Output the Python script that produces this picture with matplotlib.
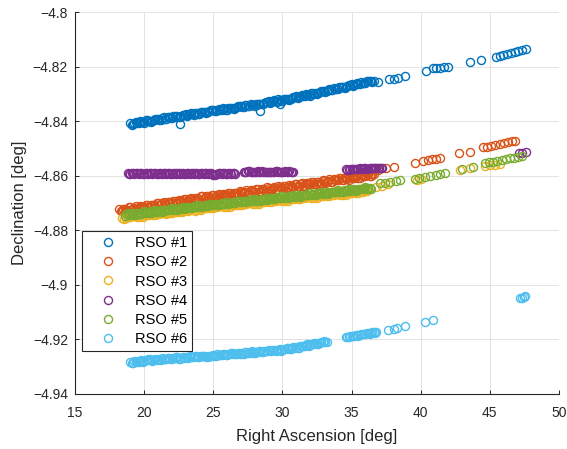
import matplotlib
matplotlib.use("Agg")
import matplotlib.pyplot as plt
from matplotlib.ticker import FuncFormatter

plt.rcParams["font.family"] = ["Liberation Sans", "DejaVu Sans"]

# RSO #1 (first pass incl. sparse tail, second pass interleaved)
rso1_ra = [
    19.0, 19.2, 19.4, 19.6, 19.8, 20.0, 20.2, 20.4, 20.6, 20.8,
    21.0, 21.2, 21.4, 21.6, 21.8, 22.0, 22.2, 22.4, 22.6, 22.8,
    23.0, 23.2, 23.4, 23.6, 23.8, 24.0, 24.2, 24.4, 24.6, 24.8,
    25.0, 25.2, 25.4, 25.6, 25.8, 26.0, 26.2, 26.4, 26.6, 26.8,
    27.0, 27.2, 27.4, 27.6, 27.8, 28.0, 28.2, 28.4, 28.6, 28.8,
    29.0, 29.2, 29.4, 29.6, 29.8, 30.0, 30.2, 30.4, 30.6, 30.8,
    31.0, 31.2, 31.4, 31.6, 31.8, 32.0, 32.2, 32.4, 32.6, 32.8,
    33.0, 33.2, 33.4, 33.6, 33.8, 34.0, 34.2, 34.4, 34.6, 34.8,
    35.0, 35.2, 35.4, 35.6, 35.8, 36.0, 36.2, 36.4, 36.6,
    22.6, 28.4, 29.8, 36.9, 37.73, 38.07, 38.33, 38.86, 40.38, 40.89,
    41.14, 41.39, 41.68, 41.97, 43.56, 44.36, 45.42, 45.7, 45.98, 46.26,
    46.54, 46.8, 47.06, 47.34, 47.61,
]
rso1_dec = [
    -4.8407, -4.8410, -4.8403, -4.8408, -4.8402, -4.8405, -4.8397, -4.8398, -4.8398, -4.8392,
    -4.8390, -4.8394, -4.8386, -4.8392, -4.8386, -4.8389, -4.8382, -4.8382, -4.8383, -4.8376,
    -4.8375, -4.8378, -4.8370, -4.8376, -4.8370, -4.8374, -4.8366, -4.8367, -4.8367, -4.8360,
    -4.8359, -4.8362, -4.8355, -4.8360, -4.8355, -4.8358, -4.8351, -4.8351, -4.8352, -4.8345,
    -4.8344, -4.8347, -4.8339, -4.8345, -4.8339, -4.8343, -4.8335, -4.8335, -4.8336, -4.8329,
    -4.8327, -4.8331, -4.8323, -4.8328, -4.8323, -4.8326, -4.8318, -4.8318, -4.8318, -4.8311,
    -4.8309, -4.8312, -4.8304, -4.8309, -4.8303, -4.8306, -4.8298, -4.8297, -4.8297, -4.8290,
    -4.8288, -4.8290, -4.8282, -4.8287, -4.8281, -4.8283, -4.8275, -4.8275, -4.8275, -4.8267,
    -4.8265, -4.8268, -4.8260, -4.8264, -4.8258, -4.8261, -4.8253, -4.8252, -4.8252,
    -4.8409, -4.8362, -4.8338, -4.8255, -4.8246, -4.8243, -4.8241, -4.8234, -4.8216, -4.8206,
    -4.8205, -4.8203, -4.8202, -4.8200, -4.8182, -4.8175, -4.8163, -4.8159, -4.8155, -4.8152,
    -4.8148, -4.8145, -4.8141, -4.8137, -4.8133,
]
rso1_ra_b = [
    19.1, 19.3, 19.5, 19.7, 19.9, 20.1, 20.3, 20.5, 20.7, 20.9,
    21.1, 21.3, 21.5, 21.7, 21.9, 22.1, 22.3, 22.5, 22.7, 22.9,
    23.1, 23.3, 23.5, 23.7, 23.9, 24.1, 24.3, 24.5, 24.7, 24.9,
    25.1, 25.3, 25.5, 25.7, 25.9, 26.1, 26.3, 26.5, 26.7, 26.9,
    27.1, 27.3, 27.5, 27.7, 27.9, 28.1, 28.3, 28.5, 28.7, 28.9,
    29.1, 29.3, 29.5, 29.7, 29.9, 30.1, 30.3, 30.5, 30.7, 30.9,
    31.1, 31.3, 31.5, 31.7, 31.9, 32.1, 32.3, 32.5, 32.7, 32.9,
    33.1, 33.3, 33.5, 33.7, 33.9, 34.1, 34.3, 34.5, 34.7, 34.9,
    35.1, 35.3, 35.5, 35.7, 35.9, 36.1, 36.3, 36.5,
]
rso1_dec_b = [
    -4.8412, -4.8405, -4.8407, -4.8400, -4.8404, -4.8397, -4.8398, -4.8401, -4.8394, -4.8392,
    -4.8395, -4.8389, -4.8390, -4.8384, -4.8388, -4.8381, -4.8383, -4.8385, -4.8379, -4.8376,
    -4.8380, -4.8373, -4.8374, -4.8368, -4.8372, -4.8366, -4.8367, -4.8370, -4.8363, -4.8360,
    -4.8364, -4.8357, -4.8359, -4.8352, -4.8357, -4.8350, -4.8352, -4.8354, -4.8348, -4.8345,
    -4.8349, -4.8342, -4.8343, -4.8337, -4.8341, -4.8335, -4.8336, -4.8338, -4.8332, -4.8329,
    -4.8332, -4.8326, -4.8327, -4.8320, -4.8325, -4.8318, -4.8319, -4.8321, -4.8314, -4.8311,
    -4.8314, -4.8307, -4.8308, -4.8301, -4.8305, -4.8298, -4.8299, -4.8300, -4.8293, -4.8290,
    -4.8293, -4.8285, -4.8286, -4.8279, -4.8283, -4.8275, -4.8276, -4.8278, -4.8271, -4.8267,
    -4.8270, -4.8263, -4.8264, -4.8256, -4.8260, -4.8253, -4.8254, -4.8255,
]

# RSO #2
rso2_ra = [
    18.2, 18.4, 18.6, 18.8, 19.0, 19.2, 19.4, 19.6, 19.8, 20.0,
    20.2, 20.4, 20.6, 20.8, 21.0, 21.2, 21.4, 21.6, 21.8, 22.0,
    22.2, 22.4, 22.6, 22.8, 23.0, 23.2, 23.4, 23.6, 23.8, 24.0,
    24.2, 24.4, 24.6, 24.8, 25.0, 25.2, 25.4, 25.6, 25.8, 26.0,
    26.2, 26.4, 26.6, 26.8, 27.0, 27.2, 27.4, 27.6, 27.8, 28.0,
    28.2, 28.4, 28.6, 28.8, 29.0, 29.2, 29.4, 29.6, 29.8, 30.0,
    30.2, 30.4, 30.6, 30.8, 31.0, 31.2, 31.4, 31.6, 31.8, 32.0,
    32.2, 32.4, 32.6, 32.8, 33.0, 33.2, 33.4, 33.6, 33.8, 34.0,
    34.2, 34.4, 34.6, 34.8, 35.0, 35.2, 35.4, 35.6, 35.8, 36.0,
    36.2, 36.4, 36.6,
    36.9, 37.5, 38.1, 39.58, 40.2, 40.5, 40.8, 41.1, 41.4, 42.79,
    43.56, 44.5, 44.8, 45.1, 45.4, 45.7, 46.0, 46.3, 46.6, 46.82,
]
rso2_dec = [
    -4.8721, -4.8729, -4.8721, -4.8728, -4.8716, -4.8721, -4.8711, -4.8721, -4.8713, -4.8716,
    -4.8706, -4.8714, -4.8706, -4.8713, -4.8701, -4.8705, -4.8696, -4.8705, -4.8698, -4.8700,
    -4.8691, -4.8698, -4.8691, -4.8697, -4.8686, -4.8690, -4.8681, -4.8690, -4.8683, -4.8685,
    -4.8676, -4.8683, -4.8676, -4.8682, -4.8671, -4.8676, -4.8666, -4.8676, -4.8669, -4.8671,
    -4.8662, -4.8670, -4.8662, -4.8669, -4.8658, -4.8662, -4.8653, -4.8663, -4.8655, -4.8658,
    -4.8649, -4.8656, -4.8649, -4.8656, -4.8644, -4.8649, -4.8640, -4.8649, -4.8642, -4.8645,
    -4.8636, -4.8643, -4.8636, -4.8643, -4.8631, -4.8636, -4.8627, -4.8636, -4.8629, -4.8632,
    -4.8622, -4.8630, -4.8623, -4.8629, -4.8618, -4.8622, -4.8613, -4.8622, -4.8615, -4.8617,
    -4.8608, -4.8615, -4.8608, -4.8614, -4.8603, -4.8607, -4.8598, -4.8607, -4.8600, -4.8602,
    -4.8593, -4.8600, -4.8593,
    -4.8580, -4.8573, -4.8568, -4.8555, -4.8545, -4.8543, -4.8540, -4.8538, -4.8536, -4.8518,
    -4.8512, -4.8496, -4.8493, -4.8490, -4.8487, -4.8484, -4.8481, -4.8477, -4.8474, -4.8472,
]
rso2_ra_b = [
    18.3, 18.5, 18.7, 18.9,
    19.1, 19.3, 19.5, 19.7, 19.9, 20.1, 20.3, 20.5, 20.7, 20.9,
    21.1, 21.3, 21.5, 21.7, 21.9, 22.1, 22.3, 22.5, 22.7, 22.9,
    23.1, 23.3, 23.5, 23.7, 23.9, 24.1, 24.3, 24.5, 24.7, 24.9,
    25.1, 25.3, 25.5, 25.7, 25.9, 26.1, 26.3, 26.5, 26.7, 26.9,
    27.1, 27.3, 27.5, 27.7, 27.9, 28.1, 28.3, 28.5, 28.7, 28.9,
    29.1, 29.3, 29.5, 29.7, 29.9, 30.1, 30.3, 30.5, 30.7, 30.9,
    31.1, 31.3, 31.5, 31.7, 31.9, 32.1, 32.3, 32.5, 32.7, 32.9,
    33.1, 33.3, 33.5, 33.7, 33.9, 34.1, 34.3, 34.5, 34.7, 34.9,
    35.1, 35.3, 35.5, 35.7, 35.9, 36.1, 36.3, 36.5,
]
rso2_dec_b = [
    -4.8730, -4.8721, -4.8724, -4.8715, -4.8723, -4.8717, -4.8722, -4.8711, -4.8714, -4.8707,
    -4.8715, -4.8706, -4.8709, -4.8700, -4.8708, -4.8701, -4.8707, -4.8695, -4.8699, -4.8691,
    -4.8700, -4.8690, -4.8694, -4.8684, -4.8693, -4.8686, -4.8692, -4.8680, -4.8684, -4.8676,
    -4.8685, -4.8675, -4.8679, -4.8669, -4.8678, -4.8672, -4.8677, -4.8666, -4.8670, -4.8662,
    -4.8671, -4.8662, -4.8665, -4.8656, -4.8665, -4.8658, -4.8664, -4.8653, -4.8656, -4.8649,
    -4.8658, -4.8648, -4.8652, -4.8643, -4.8651, -4.8645, -4.8651, -4.8639, -4.8643, -4.8636,
    -4.8645, -4.8635, -4.8639, -4.8630, -4.8638, -4.8632, -4.8638, -4.8626, -4.8630, -4.8623,
    -4.8631, -4.8622, -4.8626, -4.8616, -4.8625, -4.8618, -4.8624, -4.8612, -4.8616, -4.8608,
    -4.8617, -4.8607, -4.8611, -4.8601, -4.8610, -4.8603, -4.8609, -4.8597, -4.8601, -4.8593,
    -4.8602, -4.8592,
]

# RSO #3
rso3_ra = [
    18.4, 18.7, 19.0, 19.3, 19.6, 19.9, 20.2, 20.5, 20.8, 21.1,
    21.4, 21.7, 22.0, 22.3, 22.6, 22.9, 23.2, 23.5, 23.8, 24.1,
    24.4, 24.7, 25.0, 25.3, 25.6, 25.9, 26.2, 26.5, 26.8, 27.1,
    27.4, 27.7, 28.0, 28.3, 28.6, 28.9, 29.2, 29.5, 29.8, 30.1,
    30.4, 30.7, 31.0, 31.3, 31.6, 31.9, 32.2, 32.5, 32.8, 33.1,
    33.4, 33.7, 34.0, 34.3, 34.6, 34.9, 35.2, 35.5, 35.8, 36.1,
    36.8, 37.2, 37.6, 39.7, 40.0, 42.84, 43.6, 44.65, 45.0, 45.35, 45.7,
]
rso3_dec = [
    -4.8754, -4.8756, -4.8752, -4.8748, -4.8750, -4.8750, -4.8744, -4.8741, -4.8744, -4.8740,
    -4.8735, -4.8737, -4.8738, -4.8732, -4.8729, -4.8731, -4.8728, -4.8723, -4.8725, -4.8725,
    -4.8719, -4.8717, -4.8719, -4.8715, -4.8711, -4.8713, -4.8714, -4.8708, -4.8706, -4.8708,
    -4.8704, -4.8700, -4.8702, -4.8703, -4.8697, -4.8694, -4.8697, -4.8693, -4.8689, -4.8691,
    -4.8691, -4.8686, -4.8683, -4.8686, -4.8682, -4.8677, -4.8680, -4.8680, -4.8675, -4.8672,
    -4.8674, -4.8671, -4.8666, -4.8669, -4.8669, -4.8663, -4.8661, -4.8663, -4.8660, -4.8655,
    -4.8642, -4.8636, -4.8631, -4.8616, -4.8613, -4.8580, -4.8572, -4.8565, -4.8562, -4.8559, -4.8556,
]
rso3_ra_b = [
    18.55, 18.85, 19.15, 19.45, 19.75, 20.05, 20.35, 20.65, 20.95, 21.25,
    21.55, 21.85, 22.15, 22.45, 22.75, 23.05, 23.35, 23.65, 23.95, 24.25,
    24.55, 24.85, 25.15, 25.45, 25.75, 26.05, 26.35, 26.65, 26.95, 27.25,
    27.55, 27.85, 28.15, 28.45, 28.75, 29.05, 29.35, 29.65, 29.95, 30.25,
    30.55, 30.85, 31.15, 31.45, 31.75, 32.05, 32.35, 32.65, 32.95, 33.25,
    33.55, 33.85, 34.15, 34.45, 34.75, 35.05, 35.35, 35.65, 35.95,
]
rso3_dec_b = [
    -4.8757, -4.8752, -4.8748, -4.8753, -4.8748, -4.8744, -4.8745, -4.8744, -4.8740, -4.8736,
    -4.8740, -4.8735, -4.8732, -4.8733, -4.8732, -4.8727, -4.8724, -4.8728, -4.8723, -4.8719,
    -4.8720, -4.8720, -4.8715, -4.8711, -4.8716, -4.8711, -4.8708, -4.8709, -4.8709, -4.8704,
    -4.8700, -4.8705, -4.8700, -4.8697, -4.8698, -4.8697, -4.8693, -4.8689, -4.8694, -4.8689,
    -4.8685, -4.8687, -4.8686, -4.8682, -4.8678, -4.8682, -4.8678, -4.8674, -4.8676, -4.8675,
    -4.8670, -4.8667, -4.8671, -4.8667, -4.8663, -4.8664, -4.8664, -4.8659, -4.8656,
]

# RSO #4
rso4_ra = [
    18.8, 19.0, 19.2, 19.4, 19.6, 19.8, 20.0, 20.2, 20.4, 20.6,
    20.8, 21.0, 21.2, 21.4, 21.6, 21.8, 22.0, 22.2, 22.4, 22.6,
    22.8, 23.0, 23.2, 23.4, 23.6, 23.8, 24.0, 24.2, 24.4, 24.6,
    24.8, 25.0, 25.2, 25.4, 25.6, 25.8, 26.0, 26.2, 26.4, 26.6,
    27.2, 27.4, 27.6, 27.8, 28.0, 28.2, 28.4, 28.6, 28.8, 29.0,
    29.2, 29.4, 29.6, 29.8, 30.0, 30.2, 30.4, 30.6, 30.8,
    34.6, 34.8, 35.0, 35.2, 35.4, 35.6, 35.8, 36.0, 36.2, 36.4,
    36.6, 36.8, 37.0, 37.2,
    47.1, 47.35, 47.6,
]
rso4_dec = [
    -4.8590, -4.8593, -4.8589, -4.8591, -4.8592, -4.8589, -4.8593, -4.8590, -4.8591, -4.8592,
    -4.8590, -4.8593, -4.8589, -4.8591, -4.8592, -4.8589, -4.8593, -4.8590, -4.8591, -4.8592,
    -4.8590, -4.8593, -4.8589, -4.8591, -4.8592, -4.8589, -4.8593, -4.8590, -4.8591, -4.8592,
    -4.8590, -4.8596, -4.8594, -4.8591, -4.8592, -4.8589, -4.8593, -4.8590, -4.8591, -4.8592,
    -4.8585, -4.8588, -4.8584, -4.8586, -4.8587, -4.8584, -4.8588, -4.8585, -4.8586, -4.8587,
    -4.8585, -4.8588, -4.8584, -4.8586, -4.8587, -4.8584, -4.8588, -4.8585, -4.8586,
    -4.8577, -4.8579, -4.8575, -4.8577, -4.8576, -4.8573, -4.8576, -4.8573, -4.8574, -4.8571,
    -4.8573, -4.8570, -4.8572, -4.8570,
    -4.8518, -4.8516, -4.8514,
]
rso4_ra_b = [
    18.9, 19.1, 19.3, 19.5, 19.7, 19.9, 20.1, 20.3, 20.5, 20.7,
    20.9, 21.1, 21.3, 21.5, 21.7, 21.9, 22.1, 22.3, 22.5, 22.7,
    22.9, 23.1, 23.3, 23.5, 23.7, 23.9, 24.1, 24.3, 24.5, 24.7,
    24.9, 25.1, 25.3, 25.5, 25.7, 25.9, 26.1, 26.3, 26.5,
    27.3, 27.5, 27.7, 27.9, 28.1, 28.3, 28.5, 28.7, 28.9, 29.1,
    29.3, 29.5, 29.7, 29.9, 30.1, 30.3, 30.5, 30.7,
    34.7, 34.9, 35.1, 35.3, 35.5, 35.7, 35.9, 36.1, 36.3, 36.5,
    36.7, 36.9, 37.1,
]
rso4_dec_b = [
    -4.8592, -4.8589, -4.8593, -4.8590, -4.8591, -4.8593, -4.8589, -4.8592, -4.8590, -4.8591,
    -4.8592, -4.8589, -4.8593, -4.8590, -4.8591, -4.8593, -4.8589, -4.8592, -4.8590, -4.8591,
    -4.8592, -4.8589, -4.8593, -4.8590, -4.8591, -4.8593, -4.8589, -4.8592, -4.8590, -4.8591,
    -4.8595, -4.8596, -4.8593, -4.8590, -4.8591, -4.8593, -4.8589, -4.8592, -4.8590,
    -4.8587, -4.8584, -4.8588, -4.8585, -4.8586, -4.8588, -4.8584, -4.8587, -4.8585, -4.8586,
    -4.8587, -4.8584, -4.8588, -4.8585, -4.8586, -4.8588, -4.8584, -4.8587,
    -4.8578, -4.8575, -4.8577, -4.8574, -4.8575, -4.8576, -4.8572, -4.8575, -4.8572, -4.8573,
    -4.8570, -4.8572, -4.8571,
]

# RSO #5
rso5_ra = [
    18.6, 18.8, 19.0, 19.2, 19.4, 19.6, 19.8, 20.0, 20.2, 20.4,
    20.6, 20.8, 21.0, 21.2, 21.4, 21.6, 21.8, 22.0, 22.2, 22.4,
    22.6, 22.8, 23.0, 23.2, 23.4, 23.6, 23.8, 24.0, 24.2, 24.4,
    24.6, 24.8, 25.0, 25.2, 25.4, 25.6, 25.8, 26.0, 26.2, 26.4,
    26.6, 26.8, 27.0, 27.2, 27.4, 27.6, 27.8, 28.0, 28.2, 28.4,
    28.6, 28.8, 29.0, 29.2, 29.4, 29.6, 29.8, 30.0, 30.2, 30.4,
    30.6, 30.8, 31.0, 31.2, 31.4, 31.6, 31.8, 32.0, 32.2, 32.4,
    32.6, 32.8, 33.0, 33.2, 33.4, 33.6, 33.8, 34.0, 34.2, 34.4,
    34.6, 34.8, 35.0, 35.2, 35.4, 35.6, 35.8, 36.0, 36.2, 36.4,
    37.05, 37.4, 37.8, 38.2, 38.5, 39.6, 39.9, 40.3, 40.7, 41.1,
    41.4, 41.75, 42.96, 43.8, 44.65, 44.95, 45.25, 45.55, 45.85, 46.15,
    46.45, 46.75, 47.05, 47.3,
]
rso5_dec = [
    -4.8747, -4.8738, -4.8742, -4.8737, -4.8743, -4.8736, -4.8739, -4.8731, -4.8734, -4.8736,
    -4.8735, -4.8727, -4.8730, -4.8725, -4.8731, -4.8724, -4.8727, -4.8720, -4.8722, -4.8724,
    -4.8723, -4.8715, -4.8719, -4.8713, -4.8719, -4.8712, -4.8715, -4.8708, -4.8710, -4.8712,
    -4.8711, -4.8703, -4.8707, -4.8702, -4.8708, -4.8701, -4.8704, -4.8697, -4.8700, -4.8701,
    -4.8700, -4.8692, -4.8696, -4.8691, -4.8697, -4.8690, -4.8693, -4.8686, -4.8689, -4.8691,
    -4.8690, -4.8682, -4.8686, -4.8680, -4.8686, -4.8679, -4.8682, -4.8675, -4.8678, -4.8680,
    -4.8679, -4.8671, -4.8675, -4.8670, -4.8676, -4.8669, -4.8671, -4.8664, -4.8667, -4.8669,
    -4.8668, -4.8660, -4.8664, -4.8659, -4.8665, -4.8658, -4.8661, -4.8654, -4.8657, -4.8659,
    -4.8657, -4.8649, -4.8653, -4.8648, -4.8654, -4.8647, -4.8650, -4.8643, -4.8646, -4.8648,
    -4.8628, -4.8625, -4.8622, -4.8619, -4.8616, -4.8613, -4.8610, -4.8606, -4.8602, -4.8598,
    -4.8594, -4.8590, -4.8577, -4.8569, -4.8554, -4.8551, -4.8548, -4.8545, -4.8542, -4.8539,
    -4.8536, -4.8533, -4.8531, -4.8529,
]
rso5_ra_b = [
    18.7, 18.9,
    19.1, 19.3, 19.5, 19.7, 19.9, 20.1, 20.3, 20.5, 20.7, 20.9,
    21.1, 21.3, 21.5, 21.7, 21.9, 22.1, 22.3, 22.5, 22.7, 22.9,
    23.1, 23.3, 23.5, 23.7, 23.9, 24.1, 24.3, 24.5, 24.7, 24.9,
    25.1, 25.3, 25.5, 25.7, 25.9, 26.1, 26.3, 26.5, 26.7, 26.9,
    27.1, 27.3, 27.5, 27.7, 27.9, 28.1, 28.3, 28.5, 28.7, 28.9,
    29.1, 29.3, 29.5, 29.7, 29.9, 30.1, 30.3, 30.5, 30.7, 30.9,
    31.1, 31.3, 31.5, 31.7, 31.9, 32.1, 32.3, 32.5, 32.7, 32.9,
    33.1, 33.3, 33.5, 33.7, 33.9, 34.1, 34.3, 34.5, 34.7, 34.9,
    35.1, 35.3, 35.5, 35.7, 35.9, 36.1, 36.3,
]
rso5_dec_b = [
    -4.8741, -4.8744, -4.8740, -4.8744, -4.8737, -4.8739, -4.8733, -4.8738, -4.8734, -4.8731,
    -4.8729, -4.8733, -4.8728, -4.8732, -4.8725, -4.8727, -4.8721, -4.8727, -4.8722, -4.8719,
    -4.8717, -4.8721, -4.8717, -4.8720, -4.8713, -4.8715, -4.8709, -4.8715, -4.8710, -4.8707,
    -4.8705, -4.8709, -4.8705, -4.8709, -4.8702, -4.8704, -4.8698, -4.8704, -4.8700, -4.8696,
    -4.8694, -4.8698, -4.8694, -4.8698, -4.8691, -4.8693, -4.8687, -4.8693, -4.8689, -4.8686,
    -4.8684, -4.8688, -4.8684, -4.8687, -4.8680, -4.8682, -4.8676, -4.8682, -4.8678, -4.8675,
    -4.8673, -4.8677, -4.8673, -4.8677, -4.8670, -4.8672, -4.8665, -4.8671, -4.8667, -4.8664,
    -4.8662, -4.8666, -4.8662, -4.8666, -4.8659, -4.8661, -4.8655, -4.8661, -4.8657, -4.8654,
    -4.8651, -4.8655, -4.8651, -4.8655, -4.8648, -4.8650, -4.8644, -4.8650, -4.8646,
]

# RSO #6
rso6_ra = [
    19.0, 19.2, 19.4, 19.6, 19.8, 20.0, 20.2, 20.4, 20.6, 20.8,
    21.0, 21.2, 21.4, 21.6, 21.8, 22.0, 22.2, 22.4, 22.6, 22.8,
    23.0, 23.2, 23.4, 23.6, 23.8, 24.0, 24.2, 24.4, 24.6, 24.8,
    25.0, 25.2, 25.4, 25.6, 25.8, 26.0, 26.2, 26.4, 26.6, 26.8,
    27.0, 27.2, 27.4, 27.6, 27.8, 28.0, 28.2, 28.4, 28.6, 28.8,
    29.0, 29.2, 29.4, 29.6, 29.8, 30.0, 30.2, 30.4, 30.6, 30.8,
    31.0, 31.2, 31.4, 31.6, 31.8, 32.0, 32.2, 32.4, 32.6, 32.8,
    33.0, 33.2,
    34.6, 34.8, 35.0, 35.2, 35.4, 35.6, 35.8, 36.0, 36.2, 36.4,
    36.6, 36.8,
    37.65, 38.1, 38.3, 38.86, 40.31, 40.86, 47.15, 47.3, 47.45, 47.55,
]
rso6_dec = [
    -4.9283, -4.9287, -4.9281, -4.9282, -4.9276, -4.9280, -4.9277, -4.9274, -4.9279, -4.9274,
    -4.9272, -4.9276, -4.9272, -4.9273, -4.9268, -4.9273, -4.9270, -4.9267, -4.9271, -4.9267,
    -4.9265, -4.9269, -4.9265, -4.9266, -4.9261, -4.9265, -4.9263, -4.9260, -4.9264, -4.9260,
    -4.9258, -4.9262, -4.9257, -4.9258, -4.9253, -4.9258, -4.9255, -4.9252, -4.9256, -4.9251,
    -4.9249, -4.9253, -4.9248, -4.9250, -4.9245, -4.9249, -4.9246, -4.9243, -4.9247, -4.9242,
    -4.9240, -4.9245, -4.9240, -4.9241, -4.9236, -4.9240, -4.9236, -4.9233, -4.9236, -4.9230,
    -4.9228, -4.9231, -4.9225, -4.9225, -4.9219, -4.9222, -4.9218, -4.9214, -4.9217, -4.9211,
    -4.9208, -4.9211,
    -4.9191, -4.9193, -4.9187, -4.9188, -4.9185, -4.9186, -4.9180, -4.9182, -4.9178, -4.9179,
    -4.9174, -4.9175,
    -4.9166, -4.9162, -4.9160, -4.9152, -4.9136, -4.9130, -4.9049, -4.9047, -4.9045, -4.9043,
]
rso6_ra_b = [
    19.1, 19.3, 19.5, 19.7, 19.9, 20.1, 20.3, 20.5, 20.7, 20.9,
    21.1, 21.3, 21.5, 21.7, 21.9, 22.1, 22.3, 22.5, 22.7, 22.9,
    23.1, 23.3, 23.5, 23.7, 23.9, 24.1, 24.3, 24.5, 24.7, 24.9,
    25.1, 25.3, 25.5, 25.7, 25.9, 26.1, 26.3, 26.5, 26.7, 26.9,
    27.1, 27.3, 27.5, 27.7, 27.9, 28.1, 28.3, 28.5, 28.7, 28.9,
    29.1, 29.3, 29.5, 29.7, 29.9, 30.1, 30.3, 30.5, 30.7, 30.9,
    31.1, 31.3, 31.5, 31.7, 31.9, 32.1, 32.3, 32.5, 32.7, 32.9,
    33.1,
    34.7, 34.9, 35.1, 35.3, 35.5, 35.7, 35.9, 36.1, 36.3, 36.5, 36.7,
]
rso6_dec_b = [
    -4.9287, -4.9281, -4.9283, -4.9279, -4.9282, -4.9277, -4.9274, -4.9278, -4.9276, -4.9276,
    -4.9276, -4.9270, -4.9274, -4.9270, -4.9274, -4.9270, -4.9267, -4.9271, -4.9268, -4.9269,
    -4.9269, -4.9263, -4.9267, -4.9263, -4.9267, -4.9262, -4.9260, -4.9264, -4.9261, -4.9262,
    -4.9262, -4.9256, -4.9259, -4.9255, -4.9259, -4.9255, -4.9252, -4.9256, -4.9253, -4.9253,
    -4.9253, -4.9247, -4.9250, -4.9247, -4.9251, -4.9246, -4.9243, -4.9247, -4.9244, -4.9244,
    -4.9244, -4.9239, -4.9242, -4.9238, -4.9242, -4.9236, -4.9232, -4.9236, -4.9232, -4.9231,
    -4.9231, -4.9224, -4.9226, -4.9221, -4.9224, -4.9218, -4.9214, -4.9217, -4.9213, -4.9212,
    -4.9211,
    -4.9193, -4.9188, -4.9189, -4.9185, -4.9187, -4.9181, -4.9182, -4.9179, -4.9180, -4.9174, -4.9176,
]

labels = ["RSO #1", "RSO #2", "RSO #3", "RSO #4", "RSO #5", "RSO #6"]
colors = ["#0072BD", "#D95319", "#EDB120", "#7E2F8E", "#77AC30", "#4DBEEE"]
series = [
    (rso1_ra + rso1_ra_b, rso1_dec + rso1_dec_b),
    (rso2_ra + rso2_ra_b, rso2_dec + rso2_dec_b),
    (rso3_ra + rso3_ra_b, rso3_dec + rso3_dec_b),
    (rso4_ra + rso4_ra_b, rso4_dec + rso4_dec_b),
    (rso5_ra + rso5_ra_b, rso5_dec + rso5_dec_b),
    (rso6_ra + rso6_ra_b, rso6_dec + rso6_dec_b),
]

fig = plt.figure(figsize=(5.67, 4.49), dpi=100)
ax = fig.add_axes([75 / 567, 1 - 393.7 / 449, 484 / 567, 381.4 / 449])

for (ra, dec), lab, col in zip(series, labels, colors):
    ax.plot(ra, dec, linestyle="none", marker="o", markersize=5.8,
            markerfacecolor="none", markeredgecolor=col, markeredgewidth=1.0,
            label=lab)

ax.set_xlim(15, 50)
ax.set_ylim(-4.94, -4.8)
ax.set_xticks([15, 20, 25, 30, 35, 40, 45, 50])
ax.set_yticks([-4.94, -4.92, -4.9, -4.88, -4.86, -4.84, -4.82, -4.8])
ax.yaxis.set_major_formatter(FuncFormatter(lambda v, p: f"{round(v, 2):g}".replace("-", "\u2212")))

dark = "#262626"
ax.grid(True, color="#dedede", linewidth=0.6)
ax.set_axisbelow(True)
for side in ["top", "right"]:
    ax.spines[side].set_visible(False)
for side in ["left", "bottom"]:
    ax.spines[side].set_color(dark)
    ax.spines[side].set_linewidth(0.8)
ax.tick_params(direction="in", length=3, width=0.7, colors=dark, labelsize=10, pad=5)
ax.tick_params(axis="x", pad=8.5)

ax.set_xlabel("Right Ascension [deg]", fontsize=12, color=dark, labelpad=7)
ax.set_ylabel("Declination [deg]", fontsize=12, color=dark, labelpad=4)

leg = ax.legend(loc="upper left", bbox_to_anchor=(0.0145, 0.4266), borderaxespad=0,
                fontsize=10.5, frameon=True, fancybox=False, framealpha=1,
                edgecolor=dark, borderpad=0.35, handlelength=2.9, handletextpad=0.35,
                labelspacing=0.36)
leg.get_frame().set_linewidth(0.8)

fig.savefig("out.png", dpi=100)
